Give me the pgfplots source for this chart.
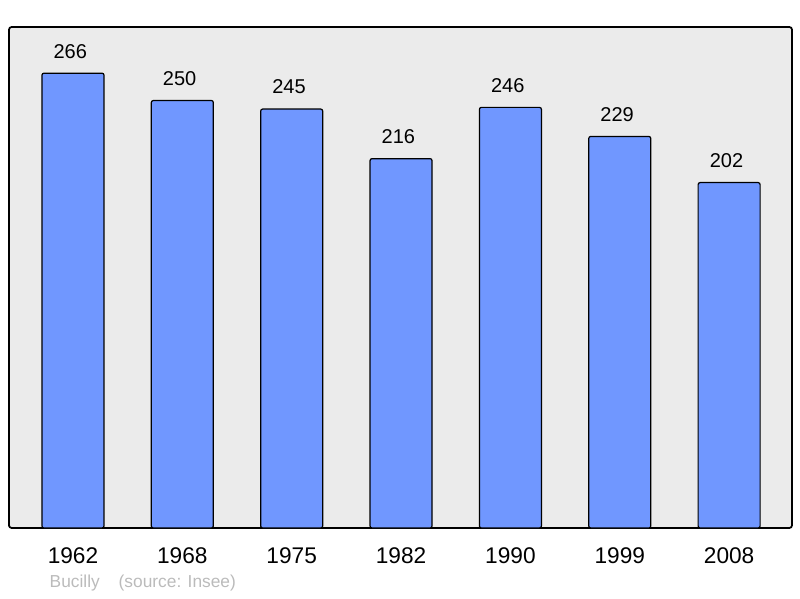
\documentclass[border=0pt]{standalone}
\usepackage{pgfplots}
\pgfplotsset{compat=1.18}
\usepackage{fontspec}
\setmainfont{Liberation Sans}
\definecolor{barblue}{RGB}{112,151,255}
\definecolor{bggray}{RGB}{235,235,235}
\definecolor{srcgray}{RGB}{187,187,187}
\begin{document}
\begin{tikzpicture}
\begin{axis}[
    width=587.25pt, height=375.75pt, scale only axis,
    xmin=-0.585, xmax=6.575, ymin=0, ymax=293,
    axis background/.style={fill=bggray, rounded corners=2pt},
    axis line style={line width=1.3pt, rounded corners=2pt},
    ybar, bar width=0.567,
    xtick=data,
    xticklabels={1962,1968,1975,1982,1990,1999,2008},
    major tick length=0pt,
    ytick=\empty,
    xticklabel style={font=\fontsize{17}{20}\selectfont, anchor=center, yshift=-21pt},
    /pgf/number format/assume math mode=true,
    nodes near coords,
    every node near coord/.append style={font=\fontsize{15}{18}\selectfont, anchor=center, yshift=16.5pt, xshift=-2pt},
]
\addplot[fill=barblue, draw=black, line width=0.9pt, rounded corners=1.5pt] coordinates {
    (0,266) (1,250) (2,245) (3,216) (4,246) (5,229) (6,202)
};
\end{axis}
\node[anchor=west, text=srcgray, font=\fontsize{13}{15}\selectfont] at ([xshift=27pt,yshift=-41.25pt]current axis.south west) {Bucilly};
\node[anchor=west, text=srcgray, font=\fontsize{13}{15}\selectfont] at ([xshift=78.75pt,yshift=-41.25pt]current axis.south west) {(source: Insee)};
\path ([xshift=-6.75pt,yshift=-52.5pt]current axis.south west) rectangle ([xshift=6pt,yshift=20.25pt]current axis.north east);
\end{tikzpicture}
\end{document}
